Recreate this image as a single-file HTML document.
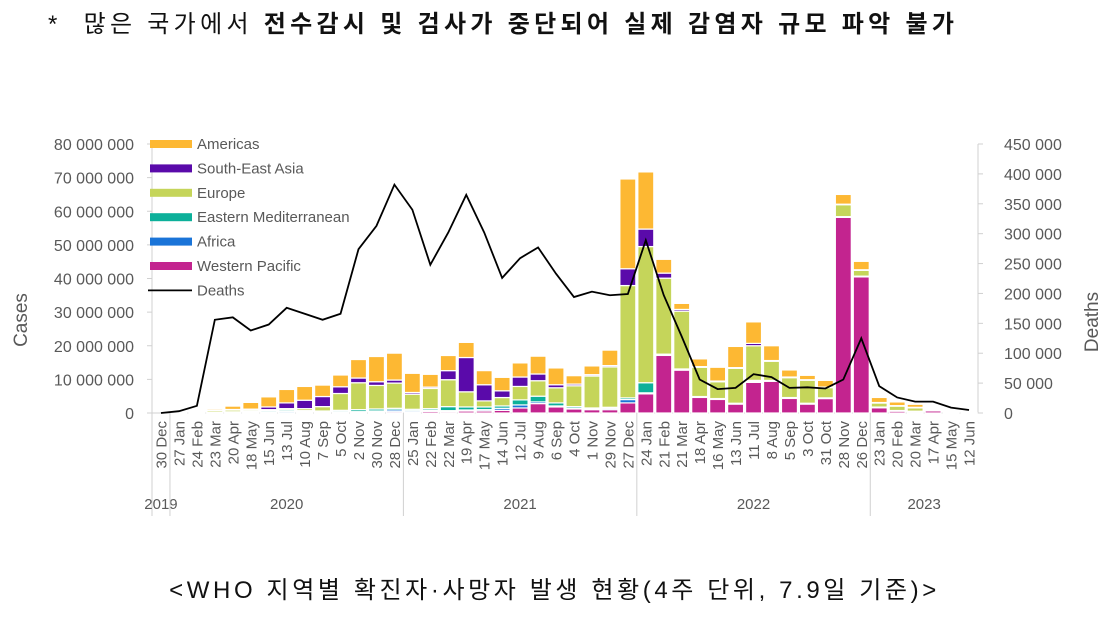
<!DOCTYPE html>
<html><head><meta charset="utf-8"><style>
body{margin:0;background:#fff;width:1109px;height:633px;overflow:hidden;font-family:"Liberation Sans","Noto Sans CJK KR",sans-serif;}
#title{position:absolute;left:48px;top:4px;font-size:24px;letter-spacing:4.3px;color:#111;white-space:nowrap;font-family:"Liberation Sans","Noto Sans CJK KR",sans-serif;}
#title b{font-weight:bold}
#caption{position:absolute;left:0;width:1109px;top:570px;text-align:center;font-size:24px;letter-spacing:3.6px;color:#111;white-space:nowrap;font-family:"Liberation Sans","Noto Sans CJK KR",sans-serif;}
svg{position:absolute;left:0;top:0}
</style></head><body>
<div id="title">* &nbsp;많은 국가에서 <b>전수감시 및 검사가 중단되어 실제 감염자 규모 파악 불가</b></div>
<svg id="chart" width="1109" height="633"></svg>
<div id="caption">&lt;WHO 지역별 확진자·사망자 발생 현황(4주 단위, 7.9일 기준)&gt;</div>
<script>
const categories=["30 Dec","27 Jan","24 Feb","23 Mar","20 Apr","18 May","15 Jun","13 Jul","10 Aug","7 Sep","5 Oct","2 Nov","30 Nov","28 Dec","25 Jan","22 Feb","22 Mar","19 Apr","17 May","14 Jun","12 Jul","9 Aug","6 Sep","4 Oct","1 Nov","29 Nov","27 Dec","24 Jan","21 Feb","21 Mar","18 Apr","16 May","13 Jun","11 Jul","8 Aug","5 Sep","3 Oct","31 Oct","28 Nov","26 Dec","23 Jan","20 Feb","20 Mar","17 Apr","15 May","12 Jun"];
// values in millions
const westernPacific=[0,0.01,0.06,0.1,0.1,0.05,0.1,0.1,0.1,0.1,0.2,0.2,0.3,0.4,0.3,0.5,0.4,0.6,0.6,0.8,1.5,2.8,1.8,1.2,1.0,1.0,3.0,5.7,17.2,12.8,4.7,4.1,2.7,9.1,9.5,4.4,2.7,4.4,58.3,40.6,1.7,0.7,0.5,0.8,0.4,0.1];
const africa=[0,0,0,0,0.05,0.1,0.2,0.4,0.3,0.2,0.2,0.2,0.3,0.5,0.4,0.3,0.3,0.3,0.4,0.6,0.9,0.5,0.3,0.2,0.2,0.4,1.0,0.3,0.1,0.1,0.1,0.1,0.1,0.3,0.1,0.1,0.1,0.05,0.05,0.05,0.02,0.02,0.02,0.01,0.01,0];
const easternMed=[0,0,0,0.1,0.2,0.3,0.4,0.4,0.3,0.3,0.4,0.6,0.6,0.5,0.4,0.5,1.2,0.9,0.8,0.7,1.5,1.7,0.9,0.5,0.3,0.3,0.5,3.0,0.2,0.2,0.1,0.1,0.1,0.3,0.1,0.1,0.1,0.05,0.05,0.05,0.05,0.02,0.02,0.01,0.01,0];
const europe=[0,0,0.02,0.6,0.6,0.4,0.3,0.4,0.6,1.3,5.0,8.0,7.0,7.5,4.5,6.0,8.0,4.5,1.8,2.5,4.0,4.6,4.5,6.2,9.5,12.0,33.4,40.5,22.6,17.2,8.7,5.0,10.4,10.3,5.7,5.9,6.9,3.1,3.6,1.8,1.3,1.4,1.1,0.4,0.05,0.05];
const southEastAsia=[0,0,0,0.05,0.1,0.3,0.8,1.7,2.5,3.0,2.0,1.4,1.1,0.9,0.5,0.4,2.7,10.2,4.8,2.0,2.8,2.0,0.9,0.5,0.4,0.4,5.0,5.2,1.5,0.5,0.2,0.2,0.2,0.7,0.2,0.2,0.1,0.1,0.1,0.1,0.05,0.05,0.05,0.02,0.01,0];
const americas=[0,0,0,0.4,1.0,2.0,3.0,4.0,4.1,3.4,3.5,5.5,7.5,8.0,5.7,3.8,4.5,4.5,4.2,4.0,4.2,5.3,5.0,2.5,2.6,4.6,26.7,17.0,4.1,1.8,2.3,4.1,6.3,6.4,4.4,2.1,1.3,2.0,2.9,2.5,1.5,1.1,0.9,0.3,0.1,0.02];
const deaths=[0,3000,12000,156000,160000,138000,148000,176000,166000,156000,166000,274000,313000,382000,340000,248000,302000,365000,302000,226000,259000,277000,233000,194000,203000,197000,199000,289000,197000,128000,56000,40000,42000,65000,60000,42000,43000,41000,56000,125000,45000,26000,19000,19000,9000,5000];
const leftTicks=["0","10 000 000","20 000 000","30 000 000","40 000 000","50 000 000","60 000 000","70 000 000","80 000 000"];
const rightTicks=["0","50 000","100 000","150 000","200 000","250 000","300 000","350 000","400 000","450 000"];
const years=["2019","2020","2021","2022","2023"];
const yearStarts=[0,1,14,27,40];

const svg=document.getElementById('chart');
const NS='http://www.w3.org/2000/svg';
const X0=152,X1=978,Y0=413,YT=144;
const w=(X1-X0)/categories.length;
const yL=v=>Y0-v/80*(Y0-YT);
const yR=v=>Y0-v/450000*(Y0-YT);
const xC=i=>X0+w*(i+0.5);
function mk(tag,attrs,parent){const e=document.createElementNS(NS,tag);for(const k in attrs)e.setAttribute(k,attrs[k]);(parent||svg).appendChild(e);return e;}
const grey='#595959',axis='#d0d0d0';
let a=mk('line',{x1:X0,y1:YT,x2:X0,y2:Y0,stroke:axis});

a=mk('line',{x1:X1,y1:YT,x2:X1,y2:Y0,stroke:axis});

a=mk('line',{x1:X0,y1:Y0,x2:X1,y2:Y0,stroke:axis});

leftTicks.forEach((t,i)=>{const y=yL(i*10);
 mk('line',{x1:X0-5,y1:y,x2:X0,y2:y,stroke:axis});
 const e=mk('text',{x:134,y:y+6,'text-anchor':'end','font-size':16,fill:grey});e.textContent=t;
 });
rightTicks.forEach((t,i)=>{const y=yR(i*50000);
 mk('line',{x1:X1,y1:y,x2:X1+5,y2:y,stroke:axis});
 const e=mk('text',{x:1004,y:y+6,'font-size':16,fill:grey});e.textContent=t;
 });
let t=mk('text',{transform:'translate(27,320) rotate(-90)','text-anchor':'middle','font-size':19,fill:grey});t.textContent='Cases';

t=mk('text',{transform:'translate(1098,322) rotate(-90)','text-anchor':'middle','font-size':19,fill:grey});t.textContent='Deaths';

const series=[[westernPacific,'#C3248F','western-pacific'],[africa,'#1A74D8','africa'],[easternMed,'#0CB09A','eastern-mediterranean'],[europe,'#C5D55A','europe'],[southEastAsia,'#5A0AAA','south-east-asia'],[americas,'#FDB833','americas']];
categories.forEach((c,i)=>{let base=0;
 series.forEach(([arr,col,name])=>{const v=arr[i];if(v<=0)return;
  const yt=yL(base+v),yb=yL(base);base+=v;
  const r=mk('rect',{x:xC(i)-w/2+1,y:yt,width:w-2,height:Math.max(yb-yt,0.6),fill:col,stroke:'#fff','stroke-width':1.2});
  });
 const l=mk('text',{transform:`translate(${xC(i)+5.5},421) rotate(-90)`,'text-anchor':'end','font-size':15,fill:grey});l.textContent=c;
 });
yearStarts.forEach((s,k)=>{const x=X0+w*s;
 mk('line',{x1:x,y1:Y0,x2:x,y2:516,stroke:axis});
 const end=k<yearStarts.length-1?yearStarts[k+1]:categories.length;
 const y=mk('text',{x:X0+w*(s+end)/2,y:509,'text-anchor':'middle','font-size':15,fill:grey});y.textContent=years[k];
 });
const pl=mk('polyline',{points:deaths.map((d,i)=>xC(i)+','+yR(d)).join(' '),fill:'none',stroke:'#000','stroke-width':1.8});

const leg=[['Americas','#FDB833'],['South-East Asia','#5A0AAA'],['Europe','#C5D55A'],['Eastern Mediterranean','#0CB09A'],['Africa','#1A74D8'],['Western Pacific','#C3248F'],['Deaths',null]];
leg.forEach(([n,col],i)=>{const y=144+i*24.4;
 if(col){const r=mk('rect',{x:150,y:y-4,width:42,height:8,fill:col});}
 else{const r=mk('line',{x1:148,y1:y,x2:192,y2:y,stroke:'#000','stroke-width':1.8});}
 const e=mk('text',{x:197,y:y+5,'font-size':15,fill:grey});e.textContent=n;
 });
</script>
</body></html>
